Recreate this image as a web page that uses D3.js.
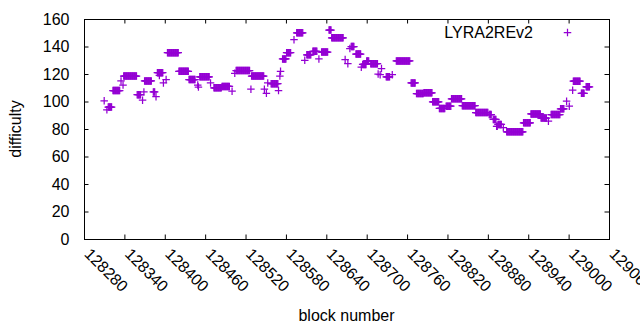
<!DOCTYPE html>
<html>
<head>
<meta charset="utf-8">
<script src="https://cdn.jsdelivr.net/npm/d3@7"></script>
<style>
  body { margin: 0; background: #fff; }
  text { font-family: "Liberation Sans", Arial, sans-serif; font-size: 16px; fill: #000; }
</style>
</head>
<body>
<div id="chart"></div>
<script>
// runs of constant difficulty: first block, last block, difficulty
var runStart = [128310, 128314, 128316, 128323, 128335, 128338, 128339, 128359, 128367, 128369,
  128370, 128383, 128387, 128389, 128392, 128398, 128402, 128404, 128421, 128436,
  128449, 128450, 128452, 128468, 128473, 128485, 128500, 128504, 128506, 128528,
  128529, 128548, 128551, 128553, 128558, 128569, 128571, 128572, 128575, 128581,
  128592, 128596, 128608, 128611, 128620, 128629, 128633, 128644, 128648, 128668,
  128672, 128675, 128677, 128684, 128692, 128694, 128700, 128706, 128717, 128720,
  128722, 128729, 128738, 128744, 128766, 128774, 128785, 128798, 128808, 128818,
  128826, 128842, 128862, 128882, 128888, 128893, 128895, 128903, 128908, 128933,
  128944, 128959, 128970, 128974, 128988, 128997, 129001, 129006, 129007, 129019,
  129026];
var runEnd = [128310, 128314, 128321, 128333, 128335, 128338, 128358, 128364, 128367, 128369,
  128380, 128385, 128387, 128397, 128392, 128398, 128402, 128420, 128435, 128445,
  128449, 128450, 128466, 128468, 128484, 128496, 128500, 128504, 128526, 128528,
  128547, 128548, 128551, 128553, 128568, 128569, 128571, 128572, 128580, 128587,
  128592, 128605, 128608, 128617, 128626, 128629, 128642, 128647, 128665, 128668,
  128672, 128675, 128681, 128691, 128692, 128699, 128703, 128716, 128717, 128720,
  128722, 128734, 128738, 128764, 128772, 128784, 128797, 128807, 128816, 128825,
  128841, 128861, 128880, 128885, 128892, 128894, 128900, 128903, 128932, 128943,
  128958, 128967, 128970, 128987, 128993, 128997, 129001, 129006, 129017, 129023,
  129031];
var runDiff = [100.5, 94, 96, 108, 115, 112, 118.5, 105, 101, 107,
  115, 107, 103.5, 121, 119, 113.5, 116, 135.5, 122, 116,
  112, 110.5, 118, 113.5, 110, 111, 107.5, 120.5, 122.5, 109,
  118.5, 109, 106, 113.5, 113, 108, 118.5, 122, 131, 135.5,
  145, 150, 130, 134, 136.5, 131, 136, 152, 146.3, 130.5,
  127.5, 138.5, 140, 134.5, 125, 127, 129.5, 127.5, 120, 119.5,
  124, 118, 119.5, 129.5, 113.5, 105.8, 106.3, 99.8, 95, 96.6,
  102, 97, 92, 90.5, 87, 82, 83.3, 81, 78, 84.5,
  91, 88, 85.7, 90.5, 94.7, 100.2, 96.6, 108.2, 114.8, 106,
  110.7];

var xTicks = [128280, 128340, 128400, 128460, 128520, 128580, 128640, 128700,
  128760, 128820, 128880, 128940, 129000, 129060];
var yTicks = [0, 20, 40, 60, 80, 100, 120, 140, 160];
var seriesName = 'LYRA2REv2';

var width = 640, height = 330;
var plotLeft = 84, plotRight = 609, plotTop = 19, plotBottom = 239;
var purple = '#9400d3';

var svg = d3.select('#chart').append('svg')
  .attr('width', width)
  .attr('height', height);

var x = d3.scaleLinear().domain([128280, 129060]).range([plotLeft, plotRight]);
var y = d3.scaleLinear().domain([0, 160]).range([plotBottom, plotTop]);

// one point per block
var points = [];
for (var i = 0; i < runStart.length; i++){
  for (var b = runStart[i]; b <= runEnd[i]; b++){
    points.push({block: b, diff: runDiff[i]});
  }
}

var cross = function(cx, cy){
  var s = 3.75;
  return 'M' + (cx - s) + ',' + cy + 'h' + (2 * s) + 'M' + cx + ',' + (cy - s) + 'v' + (2 * s);
};

// axes with inward ticks on all four sides
var xAxis = svg.append('g')
  .attr('transform', 'translate(0,' + plotBottom + ')')
  .call(d3.axisBottom(x).tickValues(xTicks).tickSize(-4.5).tickPadding(0).tickFormat(d3.format('d')));
xAxis.selectAll('text')
  .attr('x', 0)
  .attr('y', 0)
  .attr('dy', 0)
  .attr('transform', 'translate(-1,16) rotate(45)')
  .style('text-anchor', 'start');

svg.append('g')
  .attr('transform', 'translate(0,' + plotTop + ')')
  .call(d3.axisTop(x).tickValues(xTicks).tickSize(-4.5).tickFormat(''));

svg.append('g')
  .attr('transform', 'translate(' + plotLeft + ',0)')
  .call(d3.axisLeft(y).tickValues(yTicks).tickSize(-4.5).tickPadding(14.5));

svg.append('g')
  .attr('transform', 'translate(' + plotRight + ',0)')
  .call(d3.axisRight(y).tickValues(yTicks).tickSize(-4.5).tickFormat(''));

svg.selectAll('.domain').remove();
svg.selectAll('.tick line').attr('stroke', '#000');
svg.selectAll('.tick text')
  .attr('font-family', '"Liberation Sans", Arial, sans-serif')
  .attr('font-size', 16)
  .attr('fill', '#000');

svg.append('rect')
  .attr('x', plotLeft + 0.5)
  .attr('y', plotTop + 0.5)
  .attr('width', plotRight - plotLeft)
  .attr('height', plotBottom - plotTop)
  .attr('fill', 'none')
  .attr('stroke', '#000')
  .attr('stroke-width', 1);

svg.append('g')
  .selectAll('path')
  .data(points)
  .enter()
  .append('path')
  .attr('d', function(d){
    return cross(x(d.block), y(d.diff));
  })
  .attr('stroke', purple)
  .attr('stroke-width', 1.25)
  .attr('fill', 'none');

// legend
svg.append('text')
  .attr('x', 533)
  .attr('y', 38)
  .attr('text-anchor', 'end')
  .text(seriesName);
svg.append('path')
  .attr('d', cross(567.5, 32.5))
  .attr('stroke', purple)
  .attr('stroke-width', 1.25);

// axis titles
svg.append('text')
  .attr('transform', 'translate(21,' + ((plotTop + plotBottom) / 2) + ') rotate(-90)')
  .attr('text-anchor', 'middle')
  .text('difficulty');

svg.append('text')
  .attr('x', (plotLeft + plotRight) / 2)
  .attr('y', 321)
  .attr('text-anchor', 'middle')
  .text('block number');
</script>
</body>
</html>
